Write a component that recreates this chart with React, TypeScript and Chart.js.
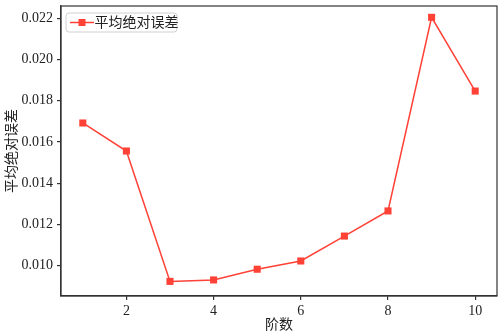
import React, { useEffect, useRef } from "react";
import { Chart, registerables } from "chart.js";

Chart.register(...registerables);

const orders = [1, 2, 3, 4, 5, 6, 7, 8, 9, 10];
const maeValues = [0.01692, 0.01556, 0.00923, 0.0093, 0.00982, 0.01022, 0.01143, 0.01265, 0.02205, 0.01847];
const xTicks = [2, 4, 6, 8, 10];
const yTicks = [0.01, 0.012, 0.014, 0.016, 0.018, 0.02, 0.022];
const seriesLabel = "平均绝对误差";
const xTitle = "阶数";
const yTitle = "平均绝对误差";

const RED = "#ff4136";
const AXIS = "#333333";
const FONT = "'Liberation Serif', 'Noto Sans CJK SC', serif";

const decorPlugin = {
  id: "decor",
  afterDraw(chart: any) {
    const { ctx, chartArea } = chart;
    const { left, top, right, bottom } = chartArea;
    ctx.save();
    // frame
    ctx.strokeStyle = AXIS;
    ctx.lineWidth = 1.2;
    ctx.strokeRect(left, top, right - left, bottom - top);
    // axis titles
    ctx.fillStyle = "#222";
    ctx.font = `14px ${FONT}`;
    ctx.textAlign = "center";
    ctx.textBaseline = "middle";
    ctx.fillText(xTitle, (left + right) / 2, 325);
    ctx.save();
    ctx.translate(12, (top + bottom) / 2);
    ctx.rotate(-Math.PI / 2);
    ctx.fillText(yTitle, 0, 0);
    ctx.restore();
    // legend
    const lx = left + 5, ly = top + 7, lw = 111, lh = 19;
    ctx.beginPath();
    const r = 3;
    ctx.moveTo(lx + r, ly);
    ctx.arcTo(lx + lw, ly, lx + lw, ly + lh, r);
    ctx.arcTo(lx + lw, ly + lh, lx, ly + lh, r);
    ctx.arcTo(lx, ly + lh, lx, ly, r);
    ctx.arcTo(lx, ly, lx + lw, ly, r);
    ctx.closePath();
    ctx.fillStyle = "rgba(255,255,255,0.8)";
    ctx.fill();
    ctx.strokeStyle = "#d0d0d0";
    ctx.lineWidth = 1;
    ctx.stroke();
    const cy = ly + lh / 2;
    ctx.strokeStyle = RED;
    ctx.lineWidth = 1.5;
    ctx.beginPath();
    ctx.moveTo(lx + 4, cy);
    ctx.lineTo(lx + 28, cy);
    ctx.stroke();
    ctx.fillStyle = RED;
    ctx.fillRect(lx + 16 - 3.5, cy - 3.5, 7, 7);
    ctx.fillStyle = "#222";
    ctx.textAlign = "left";
    ctx.font = `14px ${FONT}`;
    ctx.fillText(seriesLabel, lx + 28.5, cy + 0.5);
    ctx.restore();
  },
};

export default function App() {
  const ref = useRef<HTMLCanvasElement>(null);
  useEffect(() => {
    if (!ref.current) return;
    const chart = new Chart(ref.current, {
      type: "line",
      data: {
        datasets: [
          {
            label: seriesLabel,
            data: orders.map((x, i) => ({ x, y: maeValues[i] })),
            borderColor: RED,
            backgroundColor: RED,
            borderWidth: 1.5,
            pointStyle: "rect",
            pointRadius: 5,
            pointBorderWidth: 0,
            tension: 0,
          },
        ],
      },
      plugins: [decorPlugin],
      options: {
        animation: false,
        responsive: false,
        devicePixelRatio: 1,
        layout: { padding: { top: 6, right: 7, left: 0, bottom: 0 } },
        plugins: { legend: { display: false }, tooltip: { enabled: false } },
        scales: {
          x: {
            type: "linear",
            min: 0.5,
            max: 10.5,
            afterBuildTicks: (s: any) => {
              s.ticks = xTicks.map((v) => ({ value: v }));
            },
            afterFit: (s: any) => {
              s.height = 39;
              s.paddingLeft = 0;
              s.paddingRight = 0;
            },
            grid: { drawOnChartArea: false, drawTicks: true, tickLength: 4, color: AXIS, lineWidth: 1.2 },
            border: { display: true, color: AXIS, width: 1.2 },
            ticks: { color: "#222", font: { family: FONT, size: 14 }, padding: 3, maxRotation: 0, callback: (v: any) => String(v) },
          },
          y: {
            type: "linear",
            min: 0.00852,
            max: 0.0226,
            afterBuildTicks: (s: any) => {
              s.ticks = yTicks.map((v) => ({ value: v }));
            },
            afterFit: (s: any) => {
              s.width = 61;
              s.paddingTop = 0;
              s.paddingBottom = 0;
            },
            grid: { drawOnChartArea: false, drawTicks: true, tickLength: 4, color: AXIS, lineWidth: 1.2 },
            border: { display: true, color: AXIS, width: 1.2 },
            ticks: { color: "#222", font: { family: FONT, size: 14 }, padding: 4, callback: (v: any) => Number(v).toFixed(3) },
          },
        },
      },
    } as any);
    return () => chart.destroy();
  }, []);
  return (
    <div style={{ position: "fixed", left: 0, top: 0, width: 504, height: 335, background: "#fff" }}>
      <canvas ref={ref} width={504} height={335} style={{ width: 504, height: 335 }} />
    </div>
  );
}
